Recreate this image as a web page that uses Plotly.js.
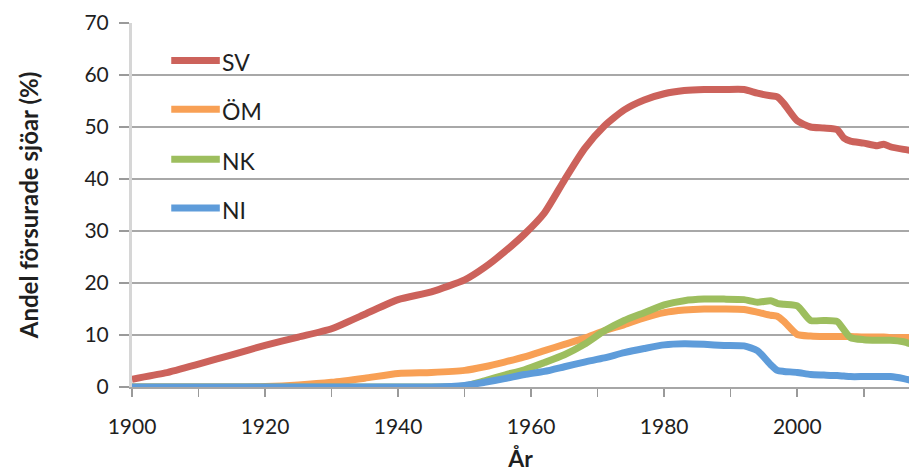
<!DOCTYPE html>
<html>
<head>
<meta charset="utf-8">
<script src="https://cdn.plot.ly/plotly-3.0.1.min.js"></script>
<style>
  html, body { margin: 0; padding: 0; background: #fff; }
  #chart { width: 909px; height: 472px; }
</style>
</head>
<body>
<div id="chart"></div>
<script>
// Andel försurade sjöar per region, 1900–2017
const years = [1900, 1905, 1910, 1915, 1920, 1925, 1930, 1935, 1940, 1945,
               1950, 1953, 1956, 1959, 1962, 1965, 1968, 1971, 1974, 1977,
               1980, 1983, 1986, 1989, 1992, 1994, 1996, 1997, 1998, 2000,
               2002, 2004, 2006, 2007, 2008, 2010, 2012, 2013, 2014, 2016, 2017];

const sv = [1.5, 2.7, 4.4, 6.2, 8.0, 9.6, 11.2, 14.0, 16.8, 18.3,
            20.6, 23.0, 26.0, 29.4, 33.5, 39.8, 45.8, 50.2, 53.3, 55.2,
            56.4, 57.0, 57.2, 57.2, 57.2, 56.5, 56.0, 55.8, 54.5, 51.2,
            50.0, 49.8, 49.5, 47.9, 47.3, 46.9, 46.4, 46.7, 46.2, 45.7, 45.5];

const om = [0, 0, 0, 0, 0.1, 0.4, 0.9, 1.7, 2.6, 2.8,
            3.2, 3.9, 4.8, 5.8, 7.0, 8.2, 9.4, 10.8, 12.0, 13.3,
            14.3, 14.8, 15.0, 15.0, 14.9, 14.4, 13.8, 13.6, 12.6, 10.1,
            9.8, 9.7, 9.7, 9.7, 9.7, 9.6, 9.6, 9.6, 9.5, 9.5, 9.5];

const nk = [0, 0, 0, 0, 0, 0, 0, 0, 0, 0,
            0.2, 1.2, 2.3, 3.3, 4.7, 6.2, 8.2, 10.8, 12.8, 14.3,
            15.8, 16.6, 16.9, 16.9, 16.8, 16.3, 16.6, 16.1, 15.9, 15.6,
            12.8, 12.8, 12.6, 11.0, 9.5, 9.1, 9.0, 9.0, 9.0, 8.7, 8.3];

const ni = [0, 0, 0, 0, 0, 0, 0, 0, 0, 0,
            0.3, 0.9, 1.6, 2.4, 3.0, 3.9, 4.8, 5.6, 6.6, 7.4,
            8.1, 8.3, 8.2, 8.0, 7.9, 7.0, 4.3, 3.2, 3.0, 2.8,
            2.4, 2.3, 2.2, 2.1, 2.0, 2.0, 2.0, 2.0, 2.0, 1.6, 1.3];

const seriesNames = ['SV', 'ÖM', 'NK', 'NI'];
const seriesData = [sv, om, nk, ni];
const seriesColors = ['#CC625B', '#F8A055', '#9DBE5E', '#5E9CDA'];

// legend rows: y-level of each sample line (axis units)
const legendLevels = [62.8, 53.4, 43.8, 34.4];
const legendX0 = 1905.9, legendX1 = 1913.2;

const font = 'Lato, "Open Sans", sans-serif';
const textColor = '#1f1f1f';

const traces = seriesNames.map((name, i) => ({
  type: 'scatter',
  mode: 'lines',
  name: name,
  x: years,
  y: seriesData[i],
  line: { color: seriesColors[i], width: 7, shape: 'spline', smoothing: 0.6 },
  showlegend: false,
  hoverinfo: 'x+y+name'
}));

const shapes = seriesNames.map((name, i) => ({
  type: 'line', xref: 'x', yref: 'y',
  x0: legendX0, x1: legendX1, y0: legendLevels[i], y1: legendLevels[i],
  line: { color: seriesColors[i], width: 7 }
}));

const annotations = seriesNames.map((name, i) => ({
  xref: 'x', yref: 'y',
  x: legendX1, y: legendLevels[i],
  xanchor: 'left', yanchor: 'middle', yshift: -2,
  text: name, showarrow: false,
  font: { family: font, size: 23, color: textColor }
}));

const layout = {
  width: 909, height: 472,
  margin: { l: 132, r: 0, t: 23, b: 85 },
  paper_bgcolor: '#ffffff', plot_bgcolor: '#ffffff',
  font: { family: font, color: textColor },
  xaxis: {
    range: [1900, 2016.8],
    tick0: 1900, dtick: 20,
    ticks: 'outside', ticklen: 8, tickcolor: '#9a9a9a', tickwidth: 1.5,
    minor: { dtick: 10, ticks: 'outside', ticklen: 8, tickcolor: '#9a9a9a', tickwidth: 1.5, showgrid: false },
    showgrid: false, zeroline: false,
    showline: true, linecolor: '#a6a6a6', linewidth: 1.5,
    tickfont: { family: font, size: 21, color: textColor },
    ticklabelstandoff: 12,
    title: { text: 'År', font: { family: font, size: 23, color: textColor, weight: 'bold' }, standoff: 22 }
  },
  yaxis: {
    range: [0, 70],
    dtick: 10,
    ticks: 'outside', ticklen: 10, tickcolor: '#9a9a9a', tickwidth: 1.5,
    showgrid: true, gridcolor: '#a8a8a8', gridwidth: 1.5,
    zeroline: false,
    showline: true, linecolor: '#d6d6d6', linewidth: 3,
    tickfont: { family: font, size: 21, color: textColor },
    ticklabelstandoff: 6,
    title: { text: 'Andel försurade sjöar (%)', font: { family: font, size: 24, color: textColor, weight: 'bold' }, standoff: 40 }
  },
  shapes: shapes,
  annotations: annotations
};

Plotly.newPlot('chart', traces, layout, { displayModeBar: false, staticPlot: true });
</script>
</body>
</html>
